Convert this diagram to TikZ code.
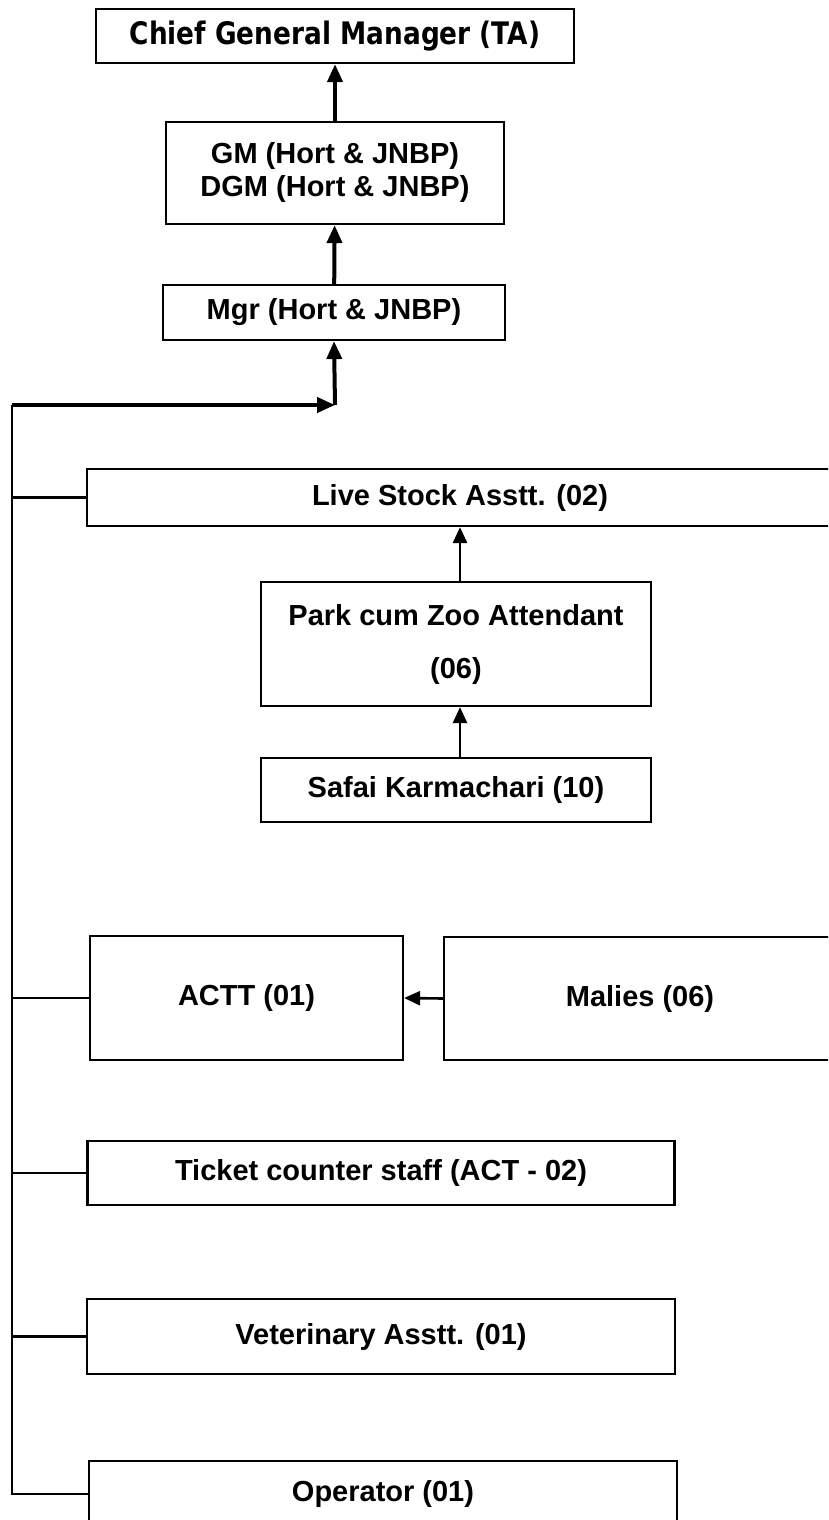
\documentclass[tikz,border=0pt]{standalone}
\usepackage{fontspec}
\usepackage{graphicx}
\setmainfont{Liberation Sans}
\newfontfamily\cgmfont{DejaVu Sans}
\usetikzlibrary{arrows.meta}

\tikzstyle{orgfig}=[x=1pt,y=-1pt]
\tikzstyle{post}=[draw,line width=2.2pt,inner sep=0pt,align=center,font=\bfseries\fontsize{29}{33}\selectfont]
\tikzstyle{uparrow}=[line width=4pt,-{Triangle[length=18pt,width=15pt]}]
\tikzstyle{smallarrow}=[line width=2.6pt,-{Triangle[length=16pt,width=14pt]}]
\tikzstyle{branch}=[line width=2.2pt]

\begin{document}
\begin{tikzpicture}[style=orgfig]
\useasboundingbox (0,0) rectangle (828,1520);
\clip (0,0) rectangle (828,1520);
\fill[white] (0,0) rectangle (828,1520);

% top of the chain
\node[post,minimum width=478pt,minimum height=54pt] (cgm) at (335,36) {\cgmfont\bfseries\fontsize{31}{33}\selectfont\scalebox{0.85}[1]{Chief General Manager (TA)}};
\node[post,minimum width=338pt,minimum height=102pt] (gm) at (335,173) {GM (Hort \& JNBP)\\DGM (Hort \& JNBP)};
\node[post,minimum width=342pt,minimum height=55pt] (mgr) at (334,312.5) {Mgr (Hort \& JNBP)};

\draw[uparrow] (gm) -- (cgm);
\draw[uparrow] (mgr) -- (gm);

\coordinate (corner) at (12,405);
\coordinate (junc) at (335,405);
\draw[uparrow] (corner) -- (junc);
\draw[uparrow] (junc) -- (mgr.south);

% live stock group
\node[post,minimum width=746pt,minimum height=57pt] (live) at (460,497.5) {Live Stock Asstt. (02)};
\node[post,minimum width=390pt,minimum height=124pt] (park) at (456,644) {Park cum Zoo Attendant\\[20pt](06)};
\node[post,minimum width=390pt,minimum height=64pt] (safai) at (456,790) {Safai Karmachari (10)};

\draw[smallarrow] (park.north -| live) -- (live.south);
\draw[smallarrow] (safai.north -| live) -- (park.south -| live);

% actt and malies
\node[post,minimum width=313pt,minimum height=124pt] (actt) at (246.5,998) {ACTT (01)};
\node[post,minimum width=392pt,minimum height=123pt] (malies) at (640,998.5) {Malies (06)};
\draw[smallarrow] (malies.west) -- (actt.east);

% other posts
\node[post,minimum width=587pt,minimum height=64pt] (ticket) at (381,1173) {Ticket counter staff (ACT - 02)};
\node[post,minimum width=588pt,minimum height=75pt] (vet) at (381,1336.5) {Veterinary Asstt. (01)};
\node[post,minimum width=588pt,minimum height=66pt] (oper) at (383,1494) {Operator (01)};

\draw[branch] (corner) |- (oper.west);
\foreach \n in {live,actt,ticket,vet}
  \draw[branch] (\n.west) -- (\n.west -| corner);
\end{tikzpicture}
\end{document}
